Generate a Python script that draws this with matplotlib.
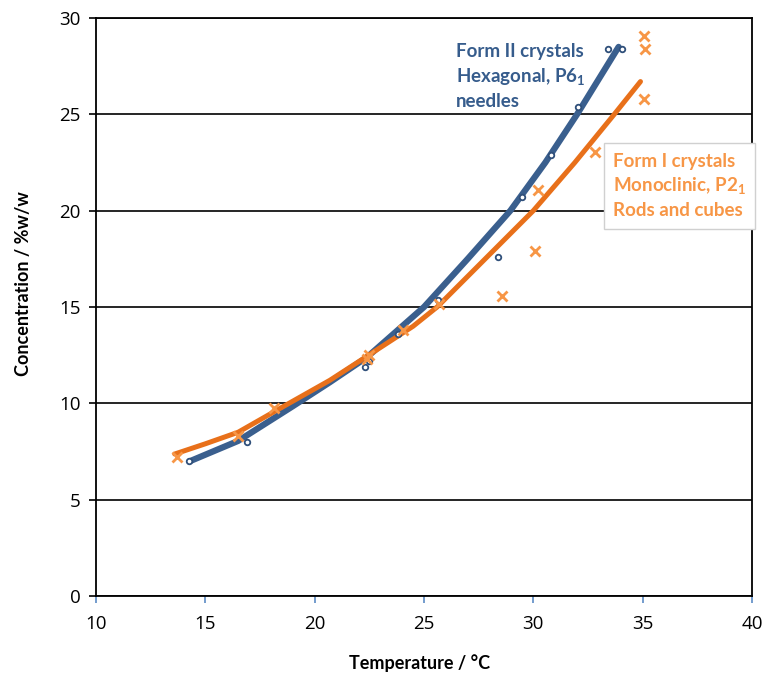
import matplotlib
matplotlib.use("Agg")
import matplotlib.pyplot as plt

plt.rcParams["font.family"] = ["Lato", "DejaVu Sans"]
plt.rcParams["mathtext.fontset"] = "custom"
plt.rcParams["mathtext.rm"] = "Lato"
plt.rcParams["mathtext.bf"] = "Lato:bold"

# measured points, Form II (hexagonal)
form2_temp = [14.25, 16.9, 22.3, 22.5, 23.8, 25.65, 28.4, 29.46, 30.8, 32.05, 33.4, 34.04]
form2_conc = [7.0, 8.0, 11.9, 12.2, 13.6, 15.36, 17.6, 20.72, 22.9, 25.36, 28.4, 28.4]

# measured points, Form I (monoclinic)
form1_temp = [13.7, 16.5, 18.15, 22.4, 22.5, 24.05, 25.7, 28.55, 30.07, 30.2, 32.8, 35.06, 35.1, 35.06]
form1_conc = [7.23, 8.3, 9.74, 12.28, 12.5, 13.8, 15.15, 15.57, 17.92, 21.07, 23.06, 25.8, 28.4, 29.06]

# trend curves
form2_fit_t = [14.3, 16.5, 19.0, 20.7, 22.4, 25.0, 27.0, 28.95, 30.55, 32.0, 33.9]
form2_fit_c = [7.0, 8.05, 9.85, 11.1, 12.4, 15.0, 17.5, 20.0, 22.5, 25.0, 28.5]
form1_fit_t = [13.6, 15.0, 16.5, 18.2, 20.7, 22.4, 24.5, 25.6, 27.8, 30.0, 31.9, 33.7, 34.9]
form1_fit_c = [7.37, 7.9, 8.5, 9.6, 11.2, 12.45, 14.0, 15.0, 17.5, 20.0, 22.5, 25.0, 26.7]

x_ticks = [10, 15, 20, 25, 30, 35, 40]
y_ticks = [0, 5, 10, 15, 20, 25, 30]

blue_line = "#3A5F8E"
orange_line = "#E8701A"
blue_text = "#365C8C"
orange_text = "#F79646"

fig = plt.figure(figsize=(7.69, 6.76), dpi=100)
ax = fig.add_axes([0.1248, 0.1183, 0.8531, 0.8551])

ax.plot(form2_fit_t, form2_fit_c, color=blue_line, lw=4.5,
        solid_capstyle="round", solid_joinstyle="round", zorder=3)
ax.plot(form1_fit_t, form1_fit_c, color=orange_line, lw=3.6,
        solid_capstyle="round", solid_joinstyle="round", zorder=4)
ax.plot(form2_temp, form2_conc, ls="none", marker="o", ms=4, mfc="white",
        mec="#2F4F7A", mew=1.3, zorder=5)
ax.plot(form1_temp, form1_conc, ls="none", marker="x", ms=6.5,
        mec=orange_text, mew=2, zorder=5)

ax.set_xlim(10, 40)
ax.set_ylim(0, 30)
ax.set_xticks(x_ticks)
ax.set_yticks(y_ticks)
ax.yaxis.grid(True, color="black", lw=1.2)
ax.set_axisbelow(True)
for s in ax.spines.values():
    s.set_color("black")
    s.set_linewidth(1.3)
ax.tick_params(axis="y", direction="out", length=5, width=1.2, labelsize=13.5, pad=6)
ax.tick_params(axis="x", direction="out", length=5, width=1.2, colors="#5B8BC5",
               labelcolor="black", labelsize=13.5, pad=9)
for lab in ax.get_xticklabels() + ax.get_yticklabels():
    lab.set_family(["Open Sans", "DejaVu Sans"])

ax.set_xlabel("Temperature / °C", fontsize=13, fontweight="bold")
ax.set_ylabel("Concentration / %w/w", fontsize=13, fontweight="bold")
ax.xaxis.set_label_coords(0.494, -0.1)
ax.yaxis.set_label_coords(-0.098, 0.54)

fig.text(0.593, 0.936, "Form II crystals\nHexagonal, P6$_{\\mathbf{1}}$\nneedles",
         ha="left", va="top", fontsize=13.5,
         fontweight="bold", color=blue_text, linespacing=1.38)

fig.text(0.797, 0.774, "Form I crystals\nMonoclinic, P2$_{\\mathbf{1}}$\nRods and cubes",
         ha="left", va="top", fontsize=13.5, fontweight="bold", color=orange_text,
         linespacing=1.38, zorder=10,
         bbox=dict(boxstyle="square,pad=0.5", fc="white", ec="#D0D0D0", lw=1))

fig.savefig("out.png", dpi=100)
